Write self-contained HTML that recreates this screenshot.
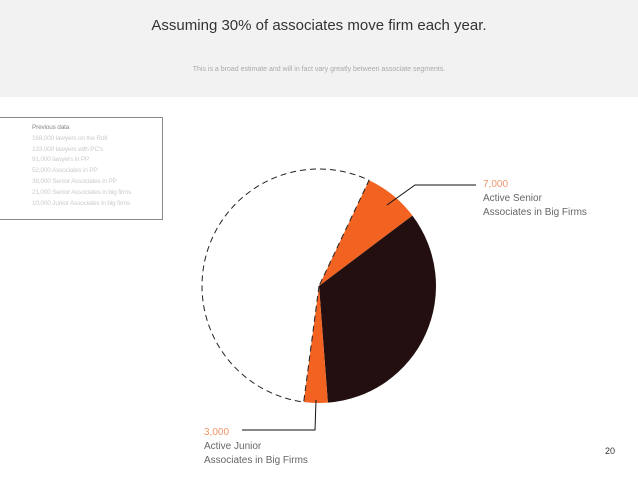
<!DOCTYPE html>
<html><head><meta charset="utf-8"><style>
body{margin:0;width:638px;height:479px;background:#fff;font-family:"Liberation Sans",sans-serif;overflow:hidden;position:relative}
.hdr{position:absolute;left:0;top:0;width:638px;height:97px;background:#f2f2f2}
.t{position:absolute;width:638px;text-align:center;left:0}
.lg{position:absolute;left:-1px;top:117px;width:163px;height:101px;border:1px solid #888;border-left:none}
.lg div{font-size:6.5px;color:#ccc;line-height:10.8px;margin-left:33px;white-space:nowrap;letter-spacing:-0.2px}
.lab{position:absolute;font-size:10px;color:#666;line-height:14px}
.lab .v{color:#f0956a}
</style></head><body>
<div class="hdr"></div>
<div class="t" style="top:17px;font-size:15px;color:#333">Assuming 30% of associates move firm each year.</div>
<div class="t" style="top:66px;font-size:7px;color:#aaa">This is a broad estimate and will in fact vary greatly between associate segments.</div>
<div class="lg">
<div style="color:#888;margin-top:5px">Previous data</div>
<div>168,000 lawyers on the Roll</div>
<div>133,000 lawyers with PC's</div>
<div>91,000 lawyers in PP</div>
<div>52,000 Associates in PP</div>
<div>39,000 Senior Associates in PP</div>
<div>21,000 Senior Associates in big firms</div>
<div>10,000 Junior Associates in big firms</div>
</div>
<svg id="pie" width="638" height="479" style="position:absolute;left:0;top:0"></svg>
<div class="lab" style="left:483px;top:178px"><span class="v">7,000</span><br>Active Senior<br>Associates in Big Firms</div>
<div class="lab" style="left:204px;top:426px"><span class="v">3,000</span><br>Active Junior<br>Associates in Big Firms</div>
<div style="position:absolute;left:605px;top:446px;font-size:9px;color:#333">20</div>
<script>
const categories=["Active Senior","Other Senior","Active Junior","Remaining"];
const values=[7000,31000,3000,50000];
const startValue=6400;
const cx=319,cy=286,r=117,NS="http://www.w3.org/2000/svg";
const fills=["#f26322","#230f0f","#f26322","none"];
const svg=document.getElementById('pie');
const total=values.reduce((a,b)=>a+b,0);
function ang(v){return v/total*2*Math.PI;}
function pt(a){return [cx+r*Math.sin(a),cy-r*Math.cos(a)];}
let a0=ang(startValue);
values.forEach((v,i)=>{
  const a1=a0+ang(v);const p0=pt(a0),p1=pt(a1);
  const large=(a1-a0)>Math.PI?1:0;
  const p=document.createElementNS(NS,'path');
  p.setAttribute('d',`M${cx},${cy}L${p0[0]},${p0[1]}A${r},${r} 0 ${large} 1 ${p1[0]},${p1[1]}Z`);
  p.setAttribute('fill',fills[i]);
  if(fills[i]==='none'){p.setAttribute('stroke','#222');p.setAttribute('stroke-dasharray','6,4');p.setAttribute('stroke-width','1');}
  
  
  svg.appendChild(p);
  a0=a1;
});
[["M387,205L415,185L476,185","senior-leader-line"],["M316,400L315,430L242,430","junior-leader-line"]].forEach(d=>{
  const l=document.createElementNS(NS,'path');
  l.setAttribute('d',d[0]);l.setAttribute('stroke','#111');l.setAttribute('fill','none');
  
  
  svg.appendChild(l);
});
</script>
</body></html>
